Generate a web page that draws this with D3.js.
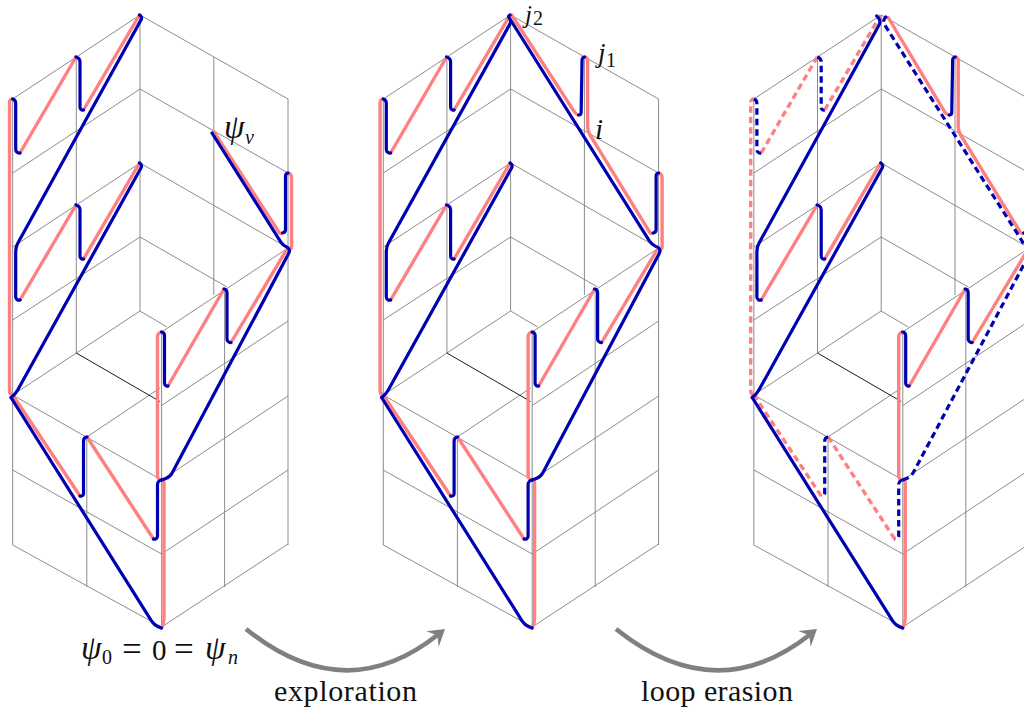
<!DOCTYPE html>
<html>
<head>
<meta charset="utf-8">
<script src="https://cdn.jsdelivr.net/npm/d3@7"></script>
<style>
  html, body { margin: 0; padding: 0; background: #fff; overflow: hidden; }
  text { font-family: "Liberation Serif", serif; fill: #111; }
</style>
</head>
<body>
<div id="chart"></div>
<script>
//========================
// Data. The other two panels use the same lattice
//========================
var panelShift = [0, 370.6, 741.2];

var gridLines = [
  // verticals
  [[12.67, 99], [12.67, 545]], [[76.3, 57], [76.3, 353]], [[140, 15], [140, 311]],
  [[213.8, 57], [213.8, 295]], [[288, 99], [288, 545]], [[86.8, 437], [86.8, 587]],
  [[161.6, 332], [161.6, 627]], [[224.6, 289], [224.6, 587]],
  // back wall, left half
  [[12.67, 99], [140, 15]], [[12.67, 173], [140, 89]], [[12.67, 247], [140, 163]],
  [[12.67, 320], [140, 237]], [[12.67, 395], [140, 311]],
  // back wall, right half
  [[140, 15], [288, 99]], [[140, 89], [288, 173]], [[140, 163], [288, 248]],
  [[140, 237], [227, 287]], [[140, 311], [167, 327]],
  // front box, right face
  [[288, 248], [161.6, 332]], [[288, 321], [161.6, 405.5]], [[288, 396], [161.6, 480]],
  [[288, 470], [161.6, 554]], [[288, 544], [161.6, 627]],
  // front box, left face
  [[12.67, 395], [161.6, 480]], [[12.67, 470], [161.6, 554]], [[12.67, 545], [161.6, 627]],
  [[86.8, 437], [160, 388]]
];
var hiddenEdge = [[76.3, 353], [160, 401.5]];

// walk pieces (pink = p, blue = b)
var pBottom = [[161.5, 628], [164, 623], [164, 480], [161.5, 480]];
var bFrontDown = [[161.5, 480], [157.5, 480.5], [157.5, 540.5], [153.5, 539]];
var pFrontUp = [[153.5, 539], [87, 437]];
var bLowDown = [[87, 437], [83.5, 437.5], [83.5, 497.5], [80, 496]];
var pLowUp = [[80, 496], [12.67, 395]];
var pLeftWall = [[12.67, 395], [9.5, 394], [9.5, 99], [12.67, 99]];
var bTopA = [[12.67, 99], [15.7, 100], [15.7, 154], [20, 153]];
var pTopA = [[20, 153], [76, 57]];
var bTopB = [[76, 57], [80, 58], [80, 111], [83.5, 110]];
var pTopB = [[83.5, 110], [139.5, 15]];
var bLongA = [[139.5, 15], [142.9, 16.5], [15.7, 247], [15.7, 301.5], [20, 300]];
var pMidA = [[20, 300], [76, 205]];
var bMidB = [[76, 205], [80, 206], [80, 260], [83.5, 259]];
var pMidB = [[83.5, 259], [139.5, 163]];
var bLongB = [[139.5, 163], [142.9, 164.5], [15.5, 394], [11, 397.5]];
var bLongC = [[11, 397.5], [154, 625], [161.5, 628]];
var bRightV = [[161.5, 480], [170, 477], [291, 249], [283, 245.5], [212, 133]];
var pPsiDown = [[214, 132], [280.5, 234.5], [282.5, 233]];
var bRightUp = [[282.5, 233], [285.5, 232.5], [285.5, 173.5], [288, 173]];
var pRightWall = [[288, 173], [291.5, 174], [291.5, 249.5], [287, 249], [231, 342.5]];
var bInnerUp = [[231, 342.5], [227, 343], [227, 289.5], [224, 289]];
var pInnerDown = [[224, 289], [168, 386]];
var bInnerB = [[168, 386], [164.5, 387], [164.5, 332.5], [161.5, 332]];
var pFrontWall = [[161.5, 332], [157.5, 332.5], [157.5, 480], [161.5, 480]];

// second panel pieces: the loop from the top point
var bLongA2 = [[139.5, 15], [136.5, 15.5], [141, 21], [15.7, 247], [15.7, 301.5], [20, 300]];
var bApex2 = [[161.5, 480], [170, 477], [291, 249], [281, 244.5], [140, 20]];
var pApexDown = [[141, 15], [205.5, 114.5], [208, 115]];
var bJ1Up = [[208, 115], [210.5, 115], [211.5, 57.5], [214, 57]];
var pJ1Down = [[214, 57], [217, 57.5], [217, 131], [280.5, 234.5], [282.5, 233]];

// third panel pieces
var bLongA3 = [[135.5, 16], [140, 21], [15.7, 247], [15.7, 301.5], [20, 300]];
var bApexDash = [[145.5, 16], [141, 21], [284, 246]];
var bFrontDash = [[161.5, 480], [170, 476.5], [291, 249]];
var pApexDown3 = [[147, 17.5], [205, 114.5], [208, 115]];

var panelPieces = [
  [
    [pBottom, "p"], [pFrontUp, "p"], [pLowUp, "p"], [pLeftWall, "p"], [pTopA, "p"], [pTopB, "p"],
    [pMidA, "p"], [pMidB, "p"], [pPsiDown, "p"], [pRightWall, "p"], [pInnerDown, "p"], [pFrontWall, "p"],
    [bFrontDown, "b"], [bLowDown, "b"], [bTopA, "b"], [bTopB, "b"], [bLongA, "b"], [bMidB, "b"],
    [bLongB, "b"], [bLongC, "b"], [bRightV, "b"], [bRightUp, "b"], [bInnerUp, "b"], [bInnerB, "b"]
  ],
  [
    [pBottom, "p"], [pFrontUp, "p"], [pLowUp, "p"], [pLeftWall, "p"], [pTopA, "p"], [pTopB, "p"],
    [pMidA, "p"], [pMidB, "p"], [pApexDown, "p"], [pJ1Down, "p"], [pRightWall, "p"], [pInnerDown, "p"], [pFrontWall, "p"],
    [bFrontDown, "b"], [bLowDown, "b"], [bTopA, "b"], [bTopB, "b"], [bLongA2, "b"], [bMidB, "b"],
    [bLongB, "b"], [bLongC, "b"], [bApex2, "b"], [bJ1Up, "b"], [bRightUp, "b"], [bInnerUp, "b"], [bInnerB, "b"]
  ],
  [
    [pBottom, "p"], [pFrontUp, "p", true], [pLowUp, "p", true], [pLeftWall, "p", true], [pTopA, "p", true], [pTopB, "p", true],
    [pMidA, "p"], [pMidB, "p"], [pApexDown3, "p"], [pJ1Down, "p"], [pRightWall, "p"], [pInnerDown, "p"], [pFrontWall, "p"],
    [bFrontDown, "b", true], [bLowDown, "b", true], [bTopA, "b", true], [bTopB, "b", true], [bLongA3, "b"], [bMidB, "b"],
    [bLongB, "b"], [bLongC, "b"], [bApexDash, "b", true], [bFrontDash, "b", true], [bJ1Up, "b"], [bRightUp, "b"], [bInnerUp, "b"], [bInnerB, "b"]
  ]
];

// arrows between the panels: start, control, end
var arrowCurves = [
  [[246, 629], [345, 709], [445, 629]],
  [[616, 629], [716, 709], [817, 629]]
];
var arrowNames = ["exploration", "loop erasion"];

//========================
// Setup Chart Params
//========================
var svgWidth = 1024;
var svgHeight = 711;
var colors = { p: "#ff8080", b: "#0000b3" };
var widths = { p: 3.4, b: 3.2 };

var svg = d3.select("#chart")
  .append("svg")
  .attr("width", svgWidth)
  .attr("height", svgHeight)
  .style("display", "block");

var yScale = d3.scaleLinear().domain([0, svgHeight]).range([0, svgHeight]);

function makeXScale(shift) {
  return d3.scaleLinear().domain([0, svgWidth]).range([shift, svgWidth + shift]);
}

// polyline with rounded corners, the inset along each side is fixed like tikz does it
function roundedPath(pts, xScale) {
  var px = pts.map(d => [xScale(d[0]), yScale(d[1])]);
  var path = d3.path();
  path.moveTo(px[0][0], px[0][1]);
  for (var i = 1; i < px.length - 1; i++) {
    var ax = px[i - 1][0] - px[i][0], ay = px[i - 1][1] - px[i][1];
    var bx = px[i + 1][0] - px[i][0], by = px[i + 1][1] - px[i][1];
    var la = Math.hypot(ax, ay), lb = Math.hypot(bx, by);
    var inset = Math.min(4.5, la * (i == 1 ? 1 : 0.5), lb * (i == px.length - 2 ? 1 : 0.5));
    var angle = Math.acos((ax * bx + ay * by) / (la * lb));
    path.arcTo(px[i][0], px[i][1], px[i + 1][0], px[i + 1][1], inset * Math.tan(angle / 2));
  }
  var last = px[px.length - 1];
  path.lineTo(last[0], last[1]);
  return path.toString();
}

// ==============================
// Panels
// ==============================
panelShift.forEach(function(shift, idx) {
  var xScale = makeXScale(shift);
  var line = d3.line().x(d => xScale(d[0])).y(d => yScale(d[1]));
  var panel = svg.append("g");

  panel.selectAll("path.grid")
    .data(gridLines)
    .enter()
    .append("path")
    .attr("class", "grid")
    .attr("d", d => line(d))
    .attr("fill", "none")
    .attr("stroke", "#7f7f7f")
    .attr("stroke-width", 0.9);

  panel.append("path")
    .attr("d", line(hiddenEdge))
    .attr("fill", "none")
    .attr("stroke", "#000")
    .attr("stroke-width", 0.9);

  panel.selectAll("path.walk")
    .data(panelPieces[idx])
    .enter()
    .append("path")
    .attr("class", "walk")
    .attr("d", d => roundedPath(d[0], xScale))
    .attr("fill", "none")
    .attr("stroke", d => colors[d[1]])
    .attr("stroke-width", d => widths[d[1]])
    .attr("stroke-linecap", d => d[2] ? "butt" : "round")
    .attr("stroke-linejoin", "round")
    .attr("stroke-dasharray", d => d[2] ? "6.5,4" : null);
});

// ==============================
// Arrows
// ==============================
arrowCurves.forEach(function(c, i) {
  var path = d3.path();
  // stop the shaft inside the head
  var tx = c[2][0] - c[1][0], ty = c[2][1] - c[1][1];
  var len = Math.sqrt(tx * tx + ty * ty);
  tx /= len; ty /= len;
  var nx = -ty, ny = tx;
  path.moveTo(c[0][0], yScale(c[0][1]));
  path.quadraticCurveTo(c[1][0], yScale(c[1][1]), c[2][0] - tx * 8, yScale(c[2][1]) - ty * 8);
  svg.append("path")
    .attr("d", path.toString())
    .attr("fill", "none")
    .attr("stroke", "#808080")
    .attr("stroke-width", 4.6);

  var head = d3.path();
  head.moveTo(c[2][0], c[2][1]);
  head.lineTo(c[2][0] - tx * 16 + nx * 10, c[2][1] - ty * 16 + ny * 10);
  head.lineTo(c[2][0] - tx * 10, c[2][1] - ty * 10);
  head.lineTo(c[2][0] - tx * 16 - nx * 10, c[2][1] - ty * 16 - ny * 10);
  head.closePath();
  svg.append("path")
    .attr("d", head.toString())
    .attr("fill", "#808080");

  svg.append("text")
    .attr("x", i == 0 ? 274 : 641)
    .attr("y", 701)
    .attr("font-size", 30)
    .attr("textLength", i == 0 ? 143 : 152)
    .attr("lengthAdjust", "spacing")
    .text(arrowNames[i]);
});

// ==============================
// Math labels
// ==============================
function addText(str, x, y, size, italic) {
  svg.append("text")
    .attr("x", x)
    .attr("y", y)
    .attr("font-size", size)
    .attr("font-style", italic ? "italic" : "normal")
    .text(str);
}

addText("ψ", 224, 138, 33, true);
addText("v", 245, 144, 20, true);

addText("j", 525, 22.5, 25, true);
addText("2", 533, 25, 20, false);
addText("j", 598, 62, 27, true);
addText("1", 606, 67, 20, false);
addText("i", 595, 139, 29, true);

addText("ψ", 81, 659, 33, true);
addText("0", 102, 664, 20, false);
addText("=", 122, 661, 35, false);
addText("0", 152, 660, 29, false);
addText("=", 174, 661, 35, false);
addText("ψ", 205, 659, 33, true);
addText("n", 228, 664, 20, true);
</script>
</body>
</html>
